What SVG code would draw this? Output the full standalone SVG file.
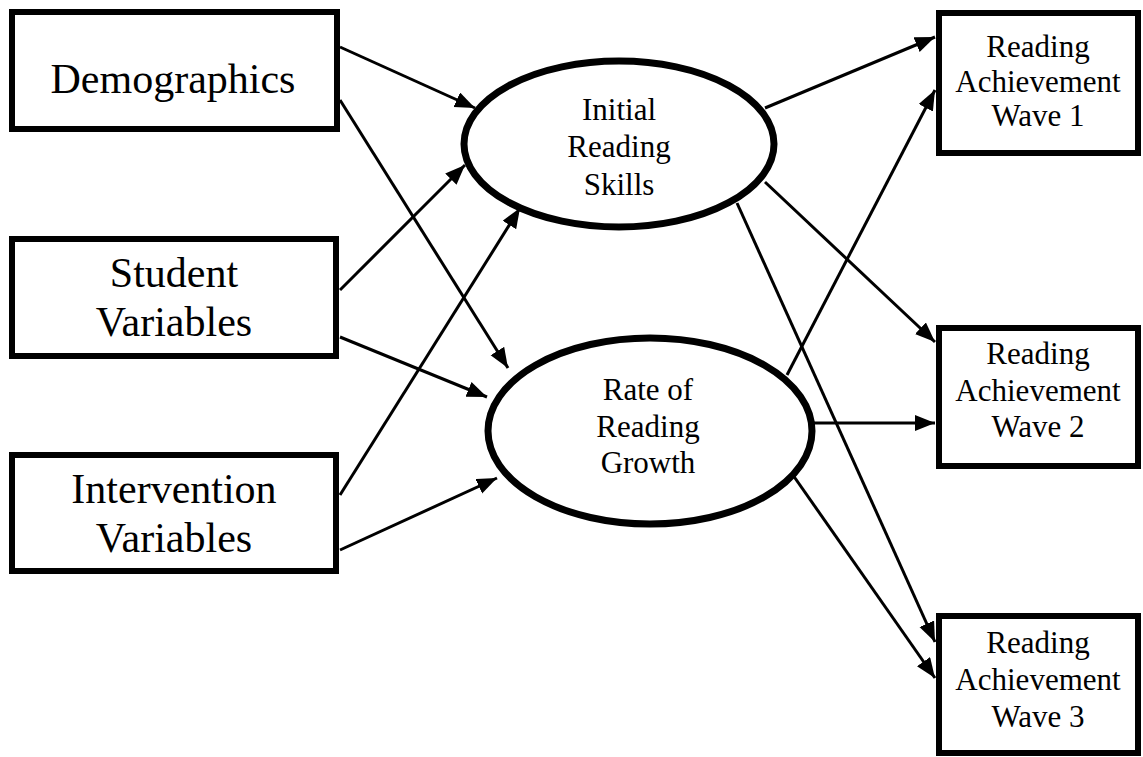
<svg xmlns="http://www.w3.org/2000/svg" width="1143" height="757" viewBox="0 0 1143 757">
  <style>
    .box { fill: #fff; stroke: #000; stroke-width: 6; }
    .latent { fill: #fff; stroke: #000; stroke-width: 7; }
    .edge { stroke: #000; stroke-width: 3; fill: none; marker-end: url(#arrow); }
    .big { font-family: "Liberation Serif", "Times New Roman", serif; font-size: 42px; fill: #000; text-anchor: middle; }
    .small { font-family: "Liberation Serif", "Times New Roman", serif; font-size: 31px; fill: #000; text-anchor: middle; }
  </style>
  <defs>
    <marker id="arrow" markerUnits="userSpaceOnUse" markerWidth="22" markerHeight="18" refX="20" refY="8" orient="auto">
      <path d="M0,0 L20,8 L0,16 z" fill="#000"/>
    </marker>
  </defs>
  <rect width="1143" height="757" fill="#fff"/>

  <!-- connectors -->
  <g id="connectors">
    <line class="edge" x1="340" y1="47" x2="475" y2="108"/>
    <line class="edge" x1="340" y1="100" x2="508" y2="368"/>
    <line class="edge" x1="340" y1="290" x2="465" y2="165"/>
    <line class="edge" x1="340" y1="337" x2="487" y2="397"/>
    <line class="edge" x1="340" y1="495" x2="520" y2="208"/>
    <line class="edge" x1="340" y1="550" x2="497" y2="478"/>
    <line class="edge" x1="765" y1="108" x2="935" y2="37"/>
    <line class="edge" x1="765" y1="182" x2="935" y2="342"/>
    <line class="edge" x1="737" y1="203" x2="935" y2="642"/>
    <line class="edge" x1="787" y1="375" x2="935" y2="90"/>
    <line class="edge" x1="813" y1="423" x2="935" y2="423"/>
    <line class="edge" x1="788" y1="468" x2="935" y2="678"/>
  </g>

  <!-- exogenous predictors -->
  <g id="demographics">
    <rect class="box" x="12" y="12" width="325" height="117"/>
    <text class="big" x="173" y="93">Demographics</text>
  </g>
  <g id="student-variables">
    <rect class="box" x="12" y="239" width="324" height="117"/>
    <text class="big" x="174" y="287">Student</text>
    <text class="big" x="174" y="336">Variables</text>
  </g>
  <g id="intervention-variables">
    <rect class="box" x="12" y="455" width="324" height="116"/>
    <text class="big" x="174" y="503">Intervention</text>
    <text class="big" x="174" y="552">Variables</text>
  </g>

  <!-- growth factors -->
  <g id="initial-reading-skills">
    <ellipse class="latent" cx="619" cy="144" rx="155" ry="83"/>
    <text class="small" x="619" y="120">Initial</text>
    <text class="small" x="619" y="157">Reading</text>
    <text class="small" x="619" y="195">Skills</text>
  </g>
  <g id="rate-of-reading-growth">
    <ellipse class="latent" cx="650" cy="431" rx="162" ry="93"/>
    <text class="small" x="648" y="400">Rate of</text>
    <text class="small" x="648" y="437">Reading</text>
    <text class="small" x="648" y="473">Growth</text>
  </g>

  <!-- outcomes -->
  <g id="wave-1">
    <rect class="box" x="939" y="13" width="199" height="140"/>
    <text class="small" x="1038" y="57">Reading</text>
    <text class="small" x="1038" y="92">Achievement</text>
    <text class="small" x="1038" y="126">Wave 1</text>
  </g>
  <g id="wave-2">
    <rect class="box" x="939" y="328" width="199" height="138"/>
    <text class="small" x="1038" y="364">Reading</text>
    <text class="small" x="1038" y="401">Achievement</text>
    <text class="small" x="1038" y="437">Wave 2</text>
  </g>
  <g id="wave-3">
    <rect class="box" x="939" y="616" width="199" height="137"/>
    <text class="small" x="1038" y="653">Reading</text>
    <text class="small" x="1038" y="690">Achievement</text>
    <text class="small" x="1038" y="727">Wave 3</text>
  </g>
</svg>
